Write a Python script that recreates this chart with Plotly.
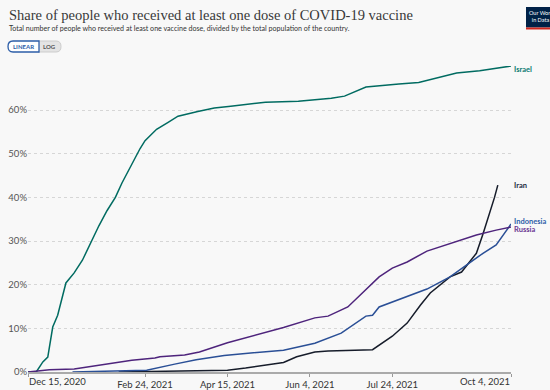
import plotly.graph_objects as go

# ---------------- data ----------------
israel_dates = ["2020-12-15", "2020-12-20", "2020-12-24", "2020-12-27", "2020-12-30", "2021-01-02",
                "2021-01-07", "2021-01-12", "2021-01-17", "2021-01-22", "2021-01-27", "2021-02-01",
                "2021-02-06", "2021-02-10", "2021-02-15", "2021-02-21", "2021-02-24", "2021-03-03",
                "2021-03-10", "2021-03-16", "2021-03-28", "2021-04-07", "2021-04-17", "2021-05-08",
                "2021-05-28", "2021-06-17", "2021-06-25", "2021-07-08", "2021-07-28", "2021-08-09",
                "2021-09-01", "2021-09-15", "2021-10-04"]
israel_values = [0, 0, 2.3, 3.4, 10.3, 13, 20.4, 22.7, 25.6, 29.5, 33.5, 37, 40, 43.3, 47, 51.2, 53,
                 55.6, 57.2, 58.6, 59.7, 60.5, 60.9, 61.8, 62, 62.7, 63.2, 65.3, 66, 66.3, 68.5, 69, 70.1]

russia_dates = ["2020-12-15", "2020-12-28", "2021-01-12", "2021-01-27", "2021-02-16", "2021-03-02",
                "2021-03-05", "2021-03-20", "2021-03-29", "2021-04-15", "2021-04-29", "2021-05-19",
                "2021-06-07", "2021-06-15", "2021-06-27", "2021-07-08", "2021-07-16", "2021-07-24",
                "2021-08-02", "2021-08-14", "2021-08-28", "2021-09-13", "2021-09-25", "2021-10-04"]
russia_values = [0, 0.5, 0.7, 1.6, 2.7, 3.2, 3.5, 3.9, 4.6, 6.7, 8.1, 10.2, 12.4, 12.8, 14.9, 18.8,
                 21.8, 23.8, 25.2, 27.7, 29.5, 31.4, 32.5, 33.2]

indonesia_dates = ["2021-01-11", "2021-01-27", "2021-02-25", "2021-03-14", "2021-03-27", "2021-04-13",
                   "2021-04-30", "2021-05-19", "2021-06-07", "2021-06-23", "2021-07-08", "2021-07-12",
                   "2021-07-16", "2021-08-02", "2021-08-14", "2021-08-28", "2021-09-07", "2021-09-17",
                   "2021-09-25", "2021-10-04"]
indonesia_values = [0, 0.1, 0.4, 1.8, 2.8, 3.8, 4.4, 5.0, 6.6, 8.9, 12.8, 13.0, 14.9, 17.2, 19.0,
                    21.8, 24.5, 27.2, 29.1, 33.9]

iran_dates = ["2021-02-08", "2021-03-29", "2021-04-15", "2021-04-26", "2021-05-19", "2021-05-27",
              "2021-06-07", "2021-06-15", "2021-07-12", "2021-07-24", "2021-08-02", "2021-08-10",
              "2021-08-16", "2021-08-28", "2021-09-04", "2021-09-13", "2021-09-17", "2021-09-24",
              "2021-09-26"]
iran_values = [0, 0.2, 0.4, 0.9, 2.2, 3.5, 4.6, 4.8, 5.1, 8.2, 11.2, 15.3, 18.1, 21.8, 22.9, 27.2,
               31.6, 40.0, 42.8]

x_tick_vals = ["2020-12-15", "2021-02-24", "2021-04-15", "2021-06-04", "2021-07-24", "2021-10-04"]
x_tick_text = ["", "Feb 24, 2021", "Apr 15, 2021", "Jun 4, 2021", "Jul 24, 2021", ""]
y_tick_vals = [0, 10, 20, 30, 40, 50, 60]
y_tick_text = ["0%", "10%", "20%", "30%", "40%", "50%", "60%"]

series = [
    ("Israel", israel_dates, israel_values, "#006b61", "#0a7a70", -3),
    ("Iran", iran_dates, iran_values, "#161c2a", "#1b2a3f", 0),
    ("Indonesia", indonesia_dates, indonesia_values, "#2a4f96", "#2d5ea8", 3),
    ("Russia", russia_dates, russia_values, "#4e247c", "#6a3592", -2),
]

# ---------------- layout helpers ----------------
W, H = 550, 390
L, R, T, B = 28, 39, 66, 18


def px(x):
    return (x - L) / (W - L - R)


def py(y):
    return (H - B - y) / (H - T - B)


fig = go.Figure()
annotations = []
for name, d, v, col, lcol, ys in series:
    fig.add_trace(go.Scatter(x=d, y=v, mode="lines", name=name,
                             line=dict(color=col, width=1.5), showlegend=False,
                             hovertemplate="%{x}<br>%{y:.1f}%<extra>" + name + "</extra>"))
    annotations.append(dict(x="2021-10-04", y=v[-1], xref="x", yref="y", text="<b>" + name + "</b>",
                            showarrow=False, xanchor="left", yanchor="middle", xshift=1, yshift=ys,
                            font=dict(family="Lato", size=7.5, color=lcol)))

annotations += [
    dict(x=px(7), y=py(15), xref="paper", yref="paper", xanchor="left", yanchor="middle",
         text="Share of people who received at least one dose of COVID-19 vaccine", showarrow=False,
         font=dict(family="Liberation Serif", size=14.5, color="#383838")),
    dict(x=px(7), y=py(28.5), xref="paper", yref="paper", xanchor="left", yanchor="middle",
         text="Total number of people who received at least one vaccine dose, divided by the total population of the country.",
         showarrow=False, font=dict(family="Lato", size=7.1, color="#333333")),
    dict(x=px(23.5), y=py(46.5), xref="paper", yref="paper", xanchor="center", yanchor="middle",
         text="<b>LINEAR</b>", showarrow=False, font=dict(family="Lato", size=6, color="#2d5ea8")),
    dict(x=px(49.5), y=py(46.5), xref="paper", yref="paper", xanchor="center", yanchor="middle",
         text="<b>LOG</b>", showarrow=False, font=dict(family="Lato", size=6, color="#555555")),
    dict(x="2020-12-15", y=0, xref="x", yref="y", xanchor="left", yanchor="top", yshift=-2, xshift=-1,
         text="Dec 15, 2020", showarrow=False, font=dict(family="Lato", size=9.5, color="#333333")),
    dict(x="2021-10-04", y=0, xref="x", yref="y", xanchor="right", yanchor="top", yshift=-2, xshift=1,
         text="Oct 4, 2021", showarrow=False, font=dict(family="Lato", size=9.5, color="#333333")),
    dict(x=px(527), y=py(17), xref="paper", yref="paper", xanchor="left", yanchor="middle",
         text="Our World<br>  in Data", showarrow=False, align="left",
         font=dict(family="Lato", size=5.5, color="#ffffff")),
]

shapes = [
    # LOG button (gray, rounded right)
    dict(type="path", xref="paper", yref="paper",
         path=f"M {px(38)},{py(41)} L {px(56)},{py(41)} Q {px(61)},{py(41)} {px(61)},{py(46.5)} "
              f"Q {px(61)},{py(52)} {px(56)},{py(52)} L {px(38)},{py(52)} Z",
         fillcolor="#e4e4e4", line=dict(color="#cccccc", width=1)),
    # LINEAR button (white, blue border, rounded left)
    dict(type="path", xref="paper", yref="paper",
         path=f"M {px(39)},{py(41)} L {px(13)},{py(41)} Q {px(8)},{py(41)} {px(8)},{py(46.5)} "
              f"Q {px(8)},{py(52)} {px(13)},{py(52)} L {px(39)},{py(52)} Z",
         fillcolor="#ffffff", line=dict(color="#2d5ea8", width=1.3)),
    # logo
    dict(type="rect", xref="paper", yref="paper", x0=px(526), x1=px(580), y0=py(7), y1=py(27.5),
         fillcolor="#002147", line=dict(width=0)),
    dict(type="rect", xref="paper", yref="paper", x0=px(526), x1=px(580), y0=py(27.5), y1=py(29.5),
         fillcolor="#ce261e", line=dict(width=0)),
]

fig.update_layout(
    width=W, height=H,
    margin=dict(l=L, r=R, t=T, b=B, pad=0),
    paper_bgcolor="#f8f8f8", plot_bgcolor="#f8f8f8",
    font=dict(family="Lato", size=10, color="#333333"),
    annotations=annotations,
    shapes=shapes,
    xaxis=dict(type="date", range=["2020-12-15", "2021-10-04"], tickvals=x_tick_vals,
               ticktext=x_tick_text, showgrid=False, zeroline=False, showline=True, automargin=False,
               linecolor="#aaaaaa", linewidth=1.5, ticks="outside", ticklen=3,
               tickcolor="#999999", tickfont=dict(family="Lato", size=9.5, color="#333333")),
    yaxis=dict(range=[0, 70.1], tickvals=y_tick_vals, ticktext=y_tick_text, showgrid=True,
               gridcolor="#d6d6d6", griddash="dot", gridwidth=1, zeroline=False, showline=False,
               automargin=False, ticks="",
               tickfont=dict(family="Lato", size=9.5, color="#555555")),
)

fig.write_html("out.html", config={"displayModeBar": False},
               post_script="document.body.style.margin='0';document.body.style.overflow='hidden';")
